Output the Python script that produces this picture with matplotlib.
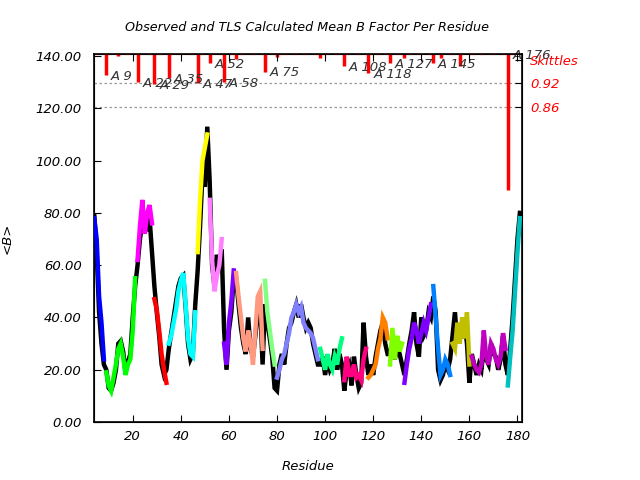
import matplotlib
matplotlib.use("Agg")
import matplotlib.pyplot as plt
import numpy as np

plt.rcParams['font.family'] = ['DejaVu Sans']
plt.rcParams['font.style'] = 'italic'

first_residue = 4
observed = [79, 65, 42, 30, 22,
            20, 13, 12, 15, 20, 30, 31, 27, 19, 23, 26, 40, 52,
            60, 70, 76, 79, 73, 78, 65,
            52, 42, 33, 22, 18, 20,
            28, 34, 40, 46, 52, 55, 56, 44, 30, 24, 26, 45,
            58, 75, 95, 90, 113,
            92, 60, 52, 64, 58, 66,
            35, 20, 35, 42, 55,
            55, 45, 36, 30, 26, 40, 28, 25, 33, 42, 45, 22,
            45, 38, 32, 25, 13,
            12, 22, 26, 22, 30, 36, 38, 42, 45, 40, 45, 40, 36, 38, 36, 30, 26, 22,
            22, 25, 18, 24, 20, 22, 28, 20, 26, 22,
            12, 20, 22, 14, 25, 18, 13, 15, 38, 25,
            18, 22, 18, 25, 30, 35, 38, 30, 26,
            26, 30, 24, 29, 26, 22,
            18, 24, 30, 35, 42, 30, 25, 40, 33, 35, 42, 40,
            48, 42, 20, 16, 18, 22, 20, 24,
            33, 42, 30, 36, 32, 38, 30, 15,
            26, 22, 18, 22, 20, 28, 24, 22, 30, 26, 25, 20, 24, 33, 22,
            18, 28, 40, 55, 70, 80]
tls = [78, 70, 48, 38, 24,
       19, 14, 12, 17, 22, 28, 30, 25, 18, 22, 24, 35, 55,
       62, 75, 85, 72, 80, 83, 76,
       47, 43, 35, 26, 20, 15,
       30, 33, 38, 43, 50, 54, 57, 45, 32, 26, 25, 42,
       65, 85, 100, 105, 110,
       85, 62, 50, 56, 60, 70,
       30, 22, 38, 46, 58,
       57, 48, 40, 32, 27, 35, 30, 22, 35, 48, 50, 28,
       54, 42, 35, 28, 22,
       17, 20, 24, 26, 30, 34, 40, 42, 45, 42, 44, 38, 36, 35, 34, 32, 28, 24,
       28, 24, 20, 26, 22, 20, 25, 22, 28, 32,
       16, 25, 18, 18, 22, 17, 18, 16, 24, 28,
       17, 18, 20, 22, 28, 32, 40, 38, 32,
       22, 36, 24, 33, 27, 30,
       15, 22, 28, 32, 38, 35, 30, 34, 38, 35, 40, 45,
       52, 40, 28, 18, 20, 24, 22, 18,
       30, 28, 38, 30, 40, 32, 42, 22,
       25, 22, 20, 19, 22, 35, 25, 22, 30, 28, 24, 22, 25, 34, 28,
       14, 25, 35, 50, 65, 78]

group_starts = [4, 9, 22, 29, 35, 47, 52, 58, 63, 75, 80, 98, 108, 118, 127, 133, 145, 153, 161, 176]
group_colors = ['#0000ff', '#00ff00', '#ff00ff', '#ff0000', '#00ffff', '#ffff00', '#ff80ff',
                '#8000ff', '#ff9980', '#80ff80', '#8080ff', '#00ff80', '#ff0080', '#ff8000',
                '#80ff00', '#8000ff', '#0080ff', '#c0c000', '#c000c0', '#00c0c0']

bar_residues = [9, 14, 22, 29, 35, 47, 52, 58, 63, 75, 80, 98, 108, 118, 127, 133, 145, 148, 156, 176]
bar_values = [0.941, 0.991, 0.922, 0.917, 0.934, 0.920, 0.971, 0.924, 0.982, 0.950,
              0.987, 0.984, 0.963, 0.946, 0.972, 0.985, 0.972, 0.985, 0.964, 0.646]
labelled = [9, 22, 29, 35, 47, 52, 58, 75, 108, 118, 127, 145, 176]

right_ticks = [0.98, 0.92, 0.86]
right_labels = ['Skittles', '0.92', '0.86']

res = np.arange(first_residue, first_residue + len(observed))
obs = np.array(observed, float)
calc = np.array(tls, float)

fig = plt.figure(figsize=(6.4, 4.8), dpi=100)
ax = fig.add_axes([0.1473, 0.1208, 0.6680, 0.7667])
ax2 = ax.twinx()
ax.set_zorder(ax2.get_zorder() + 1)
ax.patch.set_visible(False)

ax.plot(res, obs, color='black', lw=3.2, zorder=2, solid_joinstyle='miter')
bounds = group_starts + [res[-1] + 1]
for i, c in enumerate(group_colors):
    m = (res >= bounds[i]) & (res < bounds[i + 1])
    ax.plot(res[m], calc[m], color=c, lw=3.2, zorder=3, solid_joinstyle='miter')

ax.set_xlim(4, 181.8)
ax.set_ylim(0, 140.8)
ax.set_yticks(np.arange(0, 141, 20))
ax.set_yticklabels(['%.2f' % v for v in np.arange(0, 141, 20)])
ax.set_xticks(np.arange(20, 181, 20))
ax.tick_params(direction='in', top=True, length=5, labelsize=9.5, pad=6)
ax.tick_params(axis='y', pad=9)
ax.set_xlabel('Residue', fontsize=9.5, labelpad=12)
ax.set_ylabel('<B>', fontsize=9.5)
ax.yaxis.set_label_coords(-0.188, 0.5)
for s in ax.spines.values():
    s.set_linewidth(1.2)

top = 0.995
ax2.set_ylim(0.0515, top)
for v in [0.92, 0.86]:
    ax2.axhline(v, color='#999999', ls=(0, (2, 2)), lw=0.9, zorder=1)
ax2.vlines(bar_residues, bar_values, top, color='red', lw=2.5, zorder=2)
ax2.axhline(top, color='red', ls=(0, (3, 2)), lw=1.5, zorder=3)
for r, v in zip(bar_residues, bar_values):
    if r in labelled:
        yl = v if v > 0.9 else top
        ax2.annotate('A %d' % r, (r, yl), xytext=(3.5, -1), textcoords='offset points',
                     ha='left', va='center', fontsize=9.5, color='#333333', zorder=5)
ax2.set_yticks(right_ticks)
ax2.set_yticklabels(right_labels, color='red')
ax2.tick_params(direction='in', length=5, labelsize=9.5, pad=6, colors='black', labelcolor='red')

fig.suptitle('Observed and TLS Calculated Mean B Factor Per Residue', fontsize=9.2, x=0.48, y=0.957)
fig.savefig('out.png', dpi=100)
